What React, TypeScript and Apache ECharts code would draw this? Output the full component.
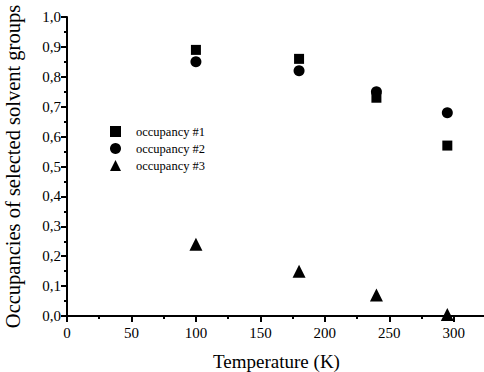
import React, { useEffect, useRef } from "react";
import * as echarts from "echarts";

const temps = [100, 180, 240, 295];
const occ1 = [0.89, 0.86, 0.73, 0.57];
const occ2 = [0.85, 0.82, 0.75, 0.68];
const occ3 = [0.24, 0.15, 0.07, 0.005];
const seriesNames = ["occupancy #1", "occupancy #2", "occupancy #3"];

const FONT = "Liberation Serif";
const tickRich = { t: { fontFamily: FONT, fontSize: 15, color: "#000" } };

export default function App() {
  const ref = useRef<HTMLDivElement>(null);
  useEffect(() => {
    if (!ref.current) return;
    const chart = echarts.init(ref.current, undefined, { renderer: "svg" });
    const pts = (ys: number[]) => temps.map((t, i) => [t, ys[i]]);
    chart.setOption({
      animation: false,
      backgroundColor: "#fff",
      textStyle: { fontFamily: FONT, color: "#000" },
      grid: { left: 67, top: 17, right: -2, bottom: 56, outerBoundsMode: "none", containLabel: false },
      legend: {
        orient: "vertical",
        left: 110,
        top: 125,
        padding: 0,
        itemWidth: 11,
        itemHeight: 11,
        itemGap: 4,
        data: [
          { name: seriesNames[0], icon: "rect" },
          { name: seriesNames[1], icon: "circle" },
          { name: seriesNames[2], icon: "triangle" },
        ],
        textStyle: { fontFamily: FONT, fontSize: 12.5, color: "#000", padding: [0, 0, 0, 10] },
      },
      xAxis: [
        {
          type: "value",
          min: 0,
          max: 325,
          interval: 50,
          name: "Temperature (K)",
          nameLocation: "middle",
          nameGap: 36,
          nameTextStyle: { fontFamily: FONT, fontSize: 19, color: "#000" },
          axisLine: { show: true, onZero: false, lineStyle: { color: "#000", width: 2 } },
          axisTick: { show: true, inside: false, length: 6, lineStyle: { color: "#000", width: 2 } },
          minorTick: { show: true, splitNumber: 2, length: 3, lineStyle: { color: "#000", width: 2 } },
          splitLine: { show: false },
          axisLabel: {
            show: true,
            fontFamily: FONT,
            fontSize: 15,
            color: "#000",
            margin: 9,
            rich: tickRich,
            formatter: (v: number) => (v > 300 ? "" : `{t|${v}}`),
          },
        },
        {
          type: "value",
          position: "top",
          min: 0,
          max: 325,
          axisLine: { show: true, lineStyle: { color: "#000", width: 2 } },
          axisTick: { show: false },
          axisLabel: { show: false },
          splitLine: { show: false },
        },
      ],
      yAxis: {
        type: "value",
        min: 0,
        max: 1,
        interval: 0.1,
        name: "Occupancies of selected solvent groups",
        nameLocation: "middle",
        nameGap: 44,
        nameTextStyle: { fontFamily: FONT, fontSize: 20.5, color: "#000" },
        axisLine: { show: true, lineStyle: { color: "#000", width: 2 } },
        axisTick: { show: true, inside: false, length: 6, lineStyle: { color: "#000", width: 2 } },
        minorTick: { show: true, splitNumber: 2, length: 3, lineStyle: { color: "#000", width: 2 } },
        splitLine: { show: false },
        axisLabel: {
          show: true,
          fontFamily: FONT,
          fontSize: 15,
          color: "#000",
          margin: 6,
          rich: tickRich,
          formatter: (v: number) => `{t|${v.toFixed(1).replace(".", ",")}}`,
        },
      },
      series: [
        {
          name: seriesNames[0],
          type: "scatter",
          symbol: "rect",
          symbolSize: 10,
          itemStyle: { color: "#000", opacity: 1 },
          data: pts(occ1),
        },
        {
          name: seriesNames[1],
          type: "scatter",
          symbol: "circle",
          symbolSize: 11,
          itemStyle: { color: "#000", opacity: 1 },
          data: pts(occ2),
        },
        {
          name: seriesNames[2],
          type: "scatter",
          symbol: "triangle",
          symbolSize: 13,
          itemStyle: { color: "#000", opacity: 1 },
          data: pts(occ3),
        },
      ],
    });
    return () => chart.dispose();
  }, []);
  return <div ref={ref} style={{ width: 484, height: 372, position: "absolute", left: 0, top: 0 }} />;
}
